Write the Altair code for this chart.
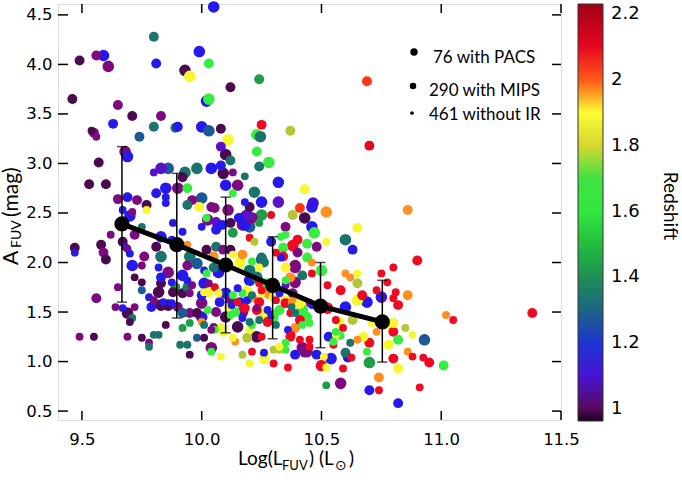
import altair as alt
import pandas as pd

# ---- galaxies detected with PACS ----
pacs_lfuv = [9.59, 9.61, 9.68, 9.69, 9.93, 9.95, 9.99, 10.05, 10.02, 10.03,
             10.00, 10.03, 10.11, 10.10, 10.09, 10.10, 10.15, 10.22, 10.25, 10.25,
             10.11, 10.23, 10.245, 10.28, 10.32, 10.32, 10.00, 9.90, 9.85, 9.93,
             9.98, 10.04, 9.86, 9.83, 9.70, 10.46, 10.465, 10.52, 10.43, 10.46,
             10.47, 10.60, 10.50, 10.39, 10.39, 10.69, 10.75, 10.60, 10.525, 10.77,
             10.93, 10.70, 10.58, 9.83, 9.83, 9.95, 10.17, 10.20, 9.69, 9.83,
             9.86, 9.82, 9.86, 9.92, 9.98, 10.01, 10.00, 10.00, 9.71, 10.04,
             10.10, 10.15, 10.23, 10.17, 10.39, 10.38, 10.20, 10.16, 10.07, 10.18,
             10.21, 10.025, 10.42, 10.42, 10.44, 10.10, 10.28, 10.26, 10.50, 10.54,
             10.65, 10.25, 10.23, 10.20, 10.19]
pacs_afuv = [4.09, 3.98, 3.12, 3.07, 3.94, 3.88, 4.13, 4.58, 3.63, 3.65,
             3.37, 3.33, 3.24, 3.09, 2.90, 2.78, 2.78, 2.71, 2.61, 2.48,
             2.53, 3.29, 3.27, 3.01, 2.81, 2.61, 2.65, 2.75, 2.75, 2.91,
             2.95, 2.95, 2.95, 2.95, 2.47, 2.56, 2.60, 2.51, 2.45, 2.36,
             2.30, 2.23, 1.92, 1.95, 1.80, 1.60, 1.65, 1.55, 1.54, 1.38,
             1.22, 0.99, 0.78, 2.26, 2.06, 2.06, 2.38, 2.36, 1.49, 1.57,
             1.57, 1.70, 1.90, 1.87, 1.99, 1.79, 1.59, 1.45, 1.97, 1.14,
             1.45, 1.35, 1.25, 1.50, 1.97, 2.17, 1.82, 2.00, 1.90, 2.38,
             2.45, 2.43, 1.52, 1.14, 1.10, 1.69, 1.69, 1.49, 0.96, 1.03,
             1.62, 2.03, 1.85, 1.92, 2.48]
pacs_z = [1.15, 1.03, 1.03, 1.15, 0.99, 1.88, 1.15, 1.15, 1.15, 1.62,
          1.15, 1.27, 1.88, 0.99, 0.99, 1.15, 1.03, 1.34, 1.15, 1.43,
          1.03, 1.62, 1.34, 1.62, 1.15, 1.08, 1.27, 1.03, 1.15, 1.34,
          1.34, 1.15, 1.27, 1.08, 1.15, 1.15, 1.12, 1.97, 0.99, 1.15,
          1.62, 1.34, 1.62, 1.03, 1.03, 1.15, 1.12, 1.15, 2.08, 1.88,
          1.27, 1.43, 1.03, 1.15, 1.34, 1.34, 1.03, 1.27, 0.99, 0.99,
          0.99, 0.99, 1.03, 1.15, 1.27, 1.15, 1.03, 1.15, 1.15, 1.03,
          0.99, 0.99, 0.99, 1.03, 1.03, 2.08, 1.15, 1.88, 1.15, 1.15,
          1.03, 1.03, 1.62, 1.03, 1.03, 1.15, 1.97, 1.88, 2.08, 1.15,
          1.88, 1.27, 1.34, 1.34, 1.08]

# ---- galaxies detected with MIPS only ----
mips_lfuv = [9.46, 9.49, 9.56, 9.65, 9.63, 9.71, 9.83, 9.80, 9.89, 9.90,
             9.74, 9.55, 9.57, 9.53, 9.60, 9.80, 9.81, 10.03, 10.12, 10.24,
             10.08, 10.08, 10.12, 10.08, 10.20, 10.18, 10.155, 10.23, 10.25, 10.24,
             10.37, 10.38, 10.41, 9.99, 10.04, 9.96, 9.94, 9.92, 9.81, 9.77,
             9.73, 9.65, 9.69, 10.69, 10.70, 10.43, 10.86, 10.40, 10.65, 10.63,
             10.48, 10.44, 10.34, 10.40, 10.44, 10.90, 10.35, 10.42, 10.65, 10.58,
             10.67, 10.82, 10.86, 10.80, 10.82, 10.78, 10.70, 10.675, 10.80, 10.95,
             11.01, 10.82, 10.74, 10.70, 10.82, 11.38, 10.61, 10.60, 10.53, 10.48,
             10.43, 10.39, 10.39, 10.80, 9.67, 9.72, 9.58, 9.59, 9.60, 9.76,
             9.81, 9.94, 10.054, 10.06, 10.12, 10.13, 10.29, 10.17, 10.06, 10.09,
             10.25, 9.47, 9.56, 9.79, 9.83, 9.83, 9.89, 9.88, 9.90, 9.92,
             9.94, 9.94, 10.00, 10.03, 9.95, 9.98, 9.92, 10.12, 10.19, 10.21,
             10.37, 10.30, 10.325, 10.35, 10.38, 10.37, 10.34, 10.27, 10.05, 10.12,
             10.02, 10.06, 10.085, 10.05, 10.35, 10.38, 10.41, 10.44, 10.41, 10.26,
             10.26, 10.19, 10.06, 10.09, 10.075, 10.16, 10.24, 10.30, 10.23, 10.275,
             10.18, 10.14, 10.26, 10.575, 10.63, 10.35]
mips_afuv = [3.65, 4.04, 4.09, 3.59, 3.40, 3.48, 3.48, 3.37, 3.36, 3.37,
             3.27, 3.31, 3.01, 2.79, 2.79, 4.28, 4.01, 4.01, 3.77, 3.85,
             3.35, 3.17, 3.03, 2.98, 2.56, 2.47, 2.45, 3.12, 3.39, 2.97,
             3.33, 2.48, 2.55, 2.56, 2.56, 2.63, 2.58, 2.86, 2.70, 2.58,
             2.63, 2.64, 2.66, 3.83, 3.18, 2.74, 2.53, 2.23, 2.35, 2.13,
             2.16, 2.19, 2.15, 2.10, 2.05, 2.02, 1.95, 1.87, 1.79, 1.72,
             1.67, 1.57, 1.67, 1.30, 1.22, 1.17, 1.19, 1.25, 1.03, 0.99,
             0.96, 0.93, 0.84, 0.71, 0.58, 1.49, 1.04, 1.09, 1.25, 1.07,
             1.09, 1.07, 1.34, 1.39, 2.21, 2.28, 2.18, 2.10, 2.03, 2.06,
             2.16, 2.75, 2.55, 2.41, 2.40, 2.30, 2.21, 2.08, 2.16, 2.13,
             2.05, 2.15, 1.64, 1.55, 1.79, 1.85, 1.75, 1.70, 1.55, 1.69,
             1.75, 1.97, 1.67, 1.70, 1.49, 1.49, 1.49, 1.62, 1.72, 1.65,
             1.25, 1.44, 1.52, 1.62, 1.69, 1.85, 2.06, 1.79, 1.95, 2.13,
             2.13, 2.33, 2.38, 2.06, 1.59, 1.60, 1.58, 1.45, 1.42, 1.07,
             1.02, 1.24, 1.50, 1.30, 1.60, 1.60, 1.60, 1.65, 1.52, 1.40,
             1.54, 1.50, 2.00, 1.40, 1.42, 2.36]
mips_z = [0.99, 0.99, 1.03, 1.03, 1.15, 0.99, 1.03, 1.34, 1.34, 1.15,
          1.27, 1.03, 0.99, 0.99, 0.99, 1.34, 1.15, 1.62, 0.99, 1.43,
          0.99, 1.08, 1.34, 1.15, 0.99, 1.08, 1.15, 1.62, 2.08, 1.34,
          1.74, 1.74, 2.02, 1.88, 1.03, 1.03, 1.34, 0.99, 1.15, 0.99,
          1.03, 1.03, 1.15, 2.02, 2.10, 1.88, 1.97, 2.08, 1.88, 1.15,
          1.03, 1.62, 1.62, 1.03, 1.62, 2.08, 1.88, 1.34, 1.74, 2.08,
          2.08, 2.08, 1.97, 2.08, 1.62, 1.88, 2.08, 1.88, 2.08, 2.08,
          1.62, 1.88, 1.97, 1.15, 1.15, 2.08, 1.15, 1.34, 1.15, 1.15,
          1.03, 1.15, 1.97, 1.88, 0.99, 1.03, 0.99, 1.03, 0.99, 1.03,
          0.99, 1.62, 1.03, 1.08, 0.99, 1.43, 1.15, 1.97, 1.34, 1.03,
          1.34, 0.99, 1.03, 1.15, 0.99, 1.15, 1.43, 0.99, 1.03, 0.99,
          1.34, 1.03, 1.15, 1.88, 1.03, 0.99, 1.27, 1.03, 1.88, 1.97,
          2.08, 1.62, 1.62, 1.88, 1.03, 1.97, 2.08, 1.62, 1.34, 0.99,
          0.99, 1.15, 1.15, 1.97, 2.08, 1.97, 1.88, 1.62, 2.08, 1.88,
          1.88, 1.74, 1.03, 1.88, 1.15, 1.15, 2.08, 1.88, 2.08, 2.08,
          2.08, 1.62, 1.34, 1.88, 1.74, 1.03]

# ---- galaxies without IR detection ----
noir_lfuv = [9.54, 9.56, 10.13, 10.18, 10.13, 10.18, 10.29, 9.80, 9.85, 9.85,
             9.77, 9.71, 9.67, 9.75, 9.62, 9.68, 9.69, 9.70, 9.88, 9.92,
             9.875, 9.94, 10.00, 10.02, 10.20, 10.22, 10.35, 10.52, 10.13, 10.33,
             10.24, 10.46, 10.46, 10.60, 10.62, 10.65, 10.525, 10.73, 10.80, 10.75,
             10.81, 10.80, 11.02, 11.05, 10.85, 10.88, 10.69, 10.65, 10.86, 10.88,
             10.925, 10.74, 10.91, 10.52, 10.59, 10.62, 10.58, 10.55, 10.36, 10.45,
             10.45, 10.52, 10.775, 10.56, 10.71, 10.73, 10.56, 10.56, 10.55, 10.59,
             10.625, 10.35, 10.375, 10.37, 10.39, 10.45, 10.46, 10.42, 10.45, 10.36,
             10.375, 10.35, 10.41, 10.51, 10.325, 10.30, 10.30, 10.21, 10.20, 10.17,
             10.08, 10.14, 10.13, 10.25, 10.20, 10.21, 10.08, 10.05, 10.055, 10.12,
             10.11, 10.13, 10.17, 10.19, 10.21, 10.25, 10.31, 10.325, 10.275, 10.29,
             10.31, 10.24, 10.20, 10.17, 10.125, 10.15, 10.24, 10.28, 10.31, 10.21,
             10.055, 10.07, 9.65, 9.64, 9.67, 9.71, 9.70, 9.72, 9.69, 9.75,
             9.78, 9.78, 9.80, 9.82, 9.85, 9.91, 9.94, 9.95, 9.92, 9.95,
             9.98, 10.01, 9.75, 9.75, 9.78, 9.80, 9.84, 9.875, 9.875, 9.95,
             9.96, 9.94, 10.01, 10.00, 10.01, 10.04, 10.04, 9.75, 9.82, 10.01,
             10.02, 9.47, 9.49, 9.55, 9.72, 10.03, 10.15, 10.025, 10.23, 10.24,
             10.25, 10.33, 10.31, 10.35, 10.31, 10.35, 10.325, 10.26]
noir_afuv = [3.33, 3.27, 2.91, 2.87, 2.70, 2.61, 2.48, 2.91, 2.66, 2.60,
             2.53, 2.51, 2.53, 2.36, 2.28, 2.16, 2.14, 2.09, 2.40, 2.31,
             2.23, 2.18, 2.36, 2.45, 2.25, 2.21, 2.28, 2.21, 2.08, 2.05,
             2.40, 1.89, 2.00, 1.89, 1.85, 1.89, 1.77, 1.72, 1.95, 1.89,
             1.70, 1.64, 1.47, 1.42, 1.34, 1.27, 1.10, 1.22, 1.10, 1.05,
             1.04, 0.71, 0.74, 0.76, 0.93, 1.19, 1.26, 1.17, 0.94, 1.15,
             1.22, 0.94, 1.80, 1.42, 1.39, 1.30, 1.27, 1.30, 1.20, 1.34,
             1.04, 1.77, 1.55, 1.49, 1.49, 1.59, 1.57, 1.37, 1.39, 1.32,
             1.27, 1.19, 1.22, 1.05, 1.12, 1.12, 0.98, 1.10, 0.98, 1.07,
             1.05, 1.20, 1.24, 1.25, 1.32, 1.37, 1.35, 1.35, 1.32, 1.47,
             1.55, 1.67, 1.69, 1.62, 1.67, 1.69, 1.62, 1.69, 1.52, 1.47,
             1.49, 1.42, 1.40, 1.44, 1.57, 1.60, 1.79, 1.79, 1.75, 2.01,
             1.75, 1.69, 1.75, 1.55, 1.54, 1.44, 1.40, 1.55, 1.25, 1.24,
             1.19, 1.15, 1.27, 1.27, 1.37, 1.17, 1.17, 1.07, 1.34, 1.39,
             1.24, 1.24, 1.80, 1.72, 1.65, 1.62, 1.60, 1.80, 1.59, 1.69,
             1.77, 1.82, 1.70, 1.40, 1.37, 1.32, 1.10, 1.97, 1.95, 1.92,
             1.89, 2.10, 1.25, 1.25, 1.85, 1.79, 1.74, 1.52, 1.54, 1.95,
             1.72, 2.26, 2.10, 1.82, 1.37, 1.12, 1.15, 1.09]
noir_z = [0.99, 1.03, 1.03, 1.34, 1.62, 1.15, 2.08, 1.08, 1.15, 1.15,
          1.88, 1.03, 1.15, 1.34, 1.03, 1.15, 1.03, 1.15, 1.15, 1.15,
          1.15, 1.97, 1.15, 1.62, 2.08, 1.74, 1.62, 1.88, 1.88, 1.15,
          1.43, 2.08, 1.97, 1.97, 1.97, 1.88, 2.08, 2.08, 2.08, 2.08,
          2.08, 2.08, 1.97, 2.08, 1.74, 1.88, 1.62, 1.97, 1.97, 2.08,
          2.08, 2.08, 2.08, 1.43, 2.08, 1.34, 1.62, 2.08, 2.08, 2.08,
          2.08, 1.88, 2.08, 2.08, 1.88, 1.97, 1.88, 1.62, 1.62, 2.08,
          2.08, 1.08, 1.34, 2.08, 1.34, 2.08, 1.15, 1.62, 1.62, 1.15,
          2.08, 1.62, 2.08, 1.88, 1.74, 1.74, 2.08, 2.08, 1.88, 1.74,
          1.88, 1.97, 1.88, 2.08, 1.88, 1.62, 1.88, 1.03, 1.62, 1.62,
          1.88, 1.62, 1.62, 1.15, 1.34, 1.88, 2.08, 1.15, 1.15, 1.15,
          1.62, 1.34, 1.34, 1.15, 1.15, 2.08, 2.08, 1.15, 1.62, 1.62,
          2.08, 1.88, 1.03, 1.03, 1.15, 1.34, 0.99, 1.03, 1.03, 0.99,
          1.03, 1.34, 1.34, 1.34, 0.99, 1.34, 1.34, 0.99, 1.43, 1.43,
          1.27, 0.99, 0.99, 1.27, 1.15, 1.03, 1.15, 1.15, 1.15, 1.03,
          1.03, 1.15, 1.88, 1.97, 1.34, 1.03, 1.62, 1.03, 1.15, 1.15,
          1.62, 1.15, 1.03, 0.99, 0.99, 1.03, 1.15, 1.62, 1.03, 1.88,
          2.08, 1.62, 2.08, 1.62, 1.34, 1.62, 1.88, 1.15]

# ---- binned means with 1-sigma scatter ----
bin_lfuv = [9.667, 9.896, 10.10, 10.296, 10.496, 10.754]
bin_mean = [2.39, 2.18, 1.975, 1.77, 1.56, 1.40]
bin_lo = [1.60, 1.44, 1.29, 1.23, 1.14, 0.995]
bin_hi = [3.17, 2.90, 2.66, 2.26, 2.00, 1.82]

x_ticks = [9.5, 10.0, 10.5, 11.0, 11.5]
y_ticks = [0.5, 1.0, 1.5, 2.0, 2.5, 3.0, 3.5, 4.0, 4.5]
z_ticks = [1.0, 1.2, 1.4, 1.6, 1.8, 2.0, 2.2]
sample_labels = ["76 with PACS", "290 with MIPS", "461 without IR"]

# redshift colour map (piecewise stops)
z_stops = [0.964, 0.99, 1.03, 1.08, 1.14, 1.20, 1.27, 1.34, 1.43, 1.52, 1.62,
           1.71, 1.72, 1.78, 1.86, 1.91, 1.95, 1.98, 2.02, 2.08, 2.15, 2.23]
z_colors = ["#14001e", "#4b0a4f", "#7e0a80", "#5a12c8", "#2814f0", "#1c34d2",
            "#1c5a96", "#1b746c", "#1f9c48", "#25c63a", "#36ee40", "#42e043",
            "#a8c23a", "#cccc30", "#f2f22e", "#ffff33", "#ffb424", "#ff7d20",
            "#ff3412", "#ee0a22", "#d2001c", "#a00016"]

gal = pd.DataFrame({
    "lfuv": pacs_lfuv + mips_lfuv + noir_lfuv,
    "afuv": pacs_afuv + mips_afuv + noir_afuv,
    "z": pacs_z + mips_z + noir_z,
    "ir": ["PACS"] * len(pacs_lfuv) + ["MIPS"] * len(mips_lfuv) + ["none"] * len(noir_lfuv),
})
bins = pd.DataFrame({"lfuv": bin_lfuv, "afuv": bin_mean, "lo": bin_lo, "hi": bin_hi})

W, H = 503, 416
xs = alt.Scale(domain=[9.4, 11.5], nice=False, zero=False)
ys = alt.Scale(domain=[0.41, 4.61], nice=False, zero=False)
x_axis = alt.Axis(values=x_ticks, title=None, ticks=False, tickSize=0, domain=False,
                  grid=False, labelFont="DejaVu Sans", labelFontSize=16.5,
                  labelColor="black", labelPadding=11, format=".1f",
                  labelFlush=False, labelOverlap=False, labelBound=False)
y_axis = alt.Axis(values=y_ticks, title=None, ticks=False, tickSize=0, domain=False,
                  grid=False, labelFont="DejaVu Sans", labelFontSize=16.5,
                  labelColor="black", labelPadding=6, format=".1f",
                  labelOverlap=False)


def X(field="lfuv"):
    return alt.X(f"{field}:Q", scale=xs, axis=x_axis)


def Y(field="afuv"):
    return alt.Y(f"{field}:Q", scale=ys, axis=y_axis)


scatter = alt.Chart(gal).mark_circle(opacity=1, strokeWidth=0).encode(
    x=X(), y=Y(),
    color=alt.Color("z:Q",
                    scale=alt.Scale(domain=z_stops, range=z_colors, interpolate="rgb",
                                    zero=False, nice=False, clamp=True),
                    legend=alt.Legend(title=None, orient="right", offset=17,
                                      padding=0, direction="vertical",
                                      gradientLength=417, gradientThickness=25,
                                      gradientStrokeColor="#333", gradientStrokeWidth=1,
                                      values=z_ticks, format=".2~f",
                                      labelFont="DejaVu Sans", labelFontSize=18,
                                      labelColor="black", labelOffset=8,
                                      labelOverlap=False)),
    size=alt.Size("ir:N", scale=alt.Scale(domain=["PACS", "MIPS", "none"],
                                          range=[135, 62, 24]), legend=None),
)

mean_line = alt.Chart(bins).mark_line(color="black", strokeWidth=5).encode(x=X(), y=Y())
mean_dots = alt.Chart(bins).mark_circle(color="black", size=230, opacity=1).encode(x=X(), y=Y())
err_rule = alt.Chart(bins).mark_rule(color="black", strokeWidth=1.5).encode(
    x=X(), y=Y("lo"), y2="hi:Q")
cap_lo = alt.Chart(bins).mark_tick(color="black", orient="horizontal", size=10,
                                   thickness=1.5).encode(x=X(), y=Y("lo"))
cap_hi = alt.Chart(bins).mark_tick(color="black", orient="horizontal", size=10,
                                   thickness=1.5).encode(x=X(), y=Y("hi"))

# inward tick marks on all four sides
xt = pd.DataFrame({"lfuv": x_ticks})
yt = pd.DataFrame({"afuv": y_ticks})
tick_style = dict(color="black", strokeWidth=1.5)
ticks = [
    alt.Chart(xt).mark_rule(**tick_style).encode(x=X(), y=alt.value(H), y2=alt.value(H - 9)),
    alt.Chart(xt).mark_rule(**tick_style).encode(x=X(), y=alt.value(0), y2=alt.value(9)),
    alt.Chart(yt).mark_rule(**tick_style).encode(y=Y(), x=alt.value(0), x2=alt.value(10)),
    alt.Chart(yt).mark_rule(**tick_style).encode(y=Y(), x=alt.value(W), x2=alt.value(W - 9)),
]


def label(text, x, y, size, font="Lato", angle=0, align="left"):
    return alt.Chart(pd.DataFrame({"t": [text]})).mark_text(
        font=font, fontSize=size, color="black", align=align, baseline="alphabetic",
        angle=angle).encode(x=alt.value(x), y=alt.value(y), text="t:N")


def dot(x, y, size):
    return alt.Chart(pd.DataFrame({"t": [0]})).mark_circle(
        color="black", opacity=1, size=size).encode(x=alt.value(x), y=alt.value(y))


key = [
    dot(356, 48, 55), label(sample_labels[0], 375, 59, 17),
    dot(355, 82, 42), label(sample_labels[1], 371, 92, 17),
    dot(354, 109, 14), label(sample_labels[2], 371, 116, 17),
]

# axis titles with subscripts, colour-bar title
x_title = [
    label("Log(L", 180, 461, 19),
    label("FUV", 224, 466, 13),
    label(") (L", 251, 461, 19),
    label("\u2299", 277, 466, 14, font="DejaVu Sans"),
    label(")", 291, 461, 19),
]
y_title = [
    label("A", -40, 261, 21, angle=270),
    label("FUV", -37, 244, 14, angle=270),
    label("(mag)", -40, 213, 21, angle=270),
]
z_title = label("Redshift", 606, 202, 19, angle=90, align="center")

chart = alt.layer(
    scatter, err_rule, cap_lo, cap_hi, mean_line, mean_dots,
    *ticks, *key, *x_title, *y_title, z_title,
).properties(
    width=W, height=H,
    autosize=alt.AutoSizeParams(type="none"),
    padding={"left": 58, "top": 4, "right": 121, "bottom": 74},
).configure_view(
    stroke="black", strokeWidth=2
).configure(background="white")

chart.save("out.html", embed_options={"renderer": "svg", "actions": False})
